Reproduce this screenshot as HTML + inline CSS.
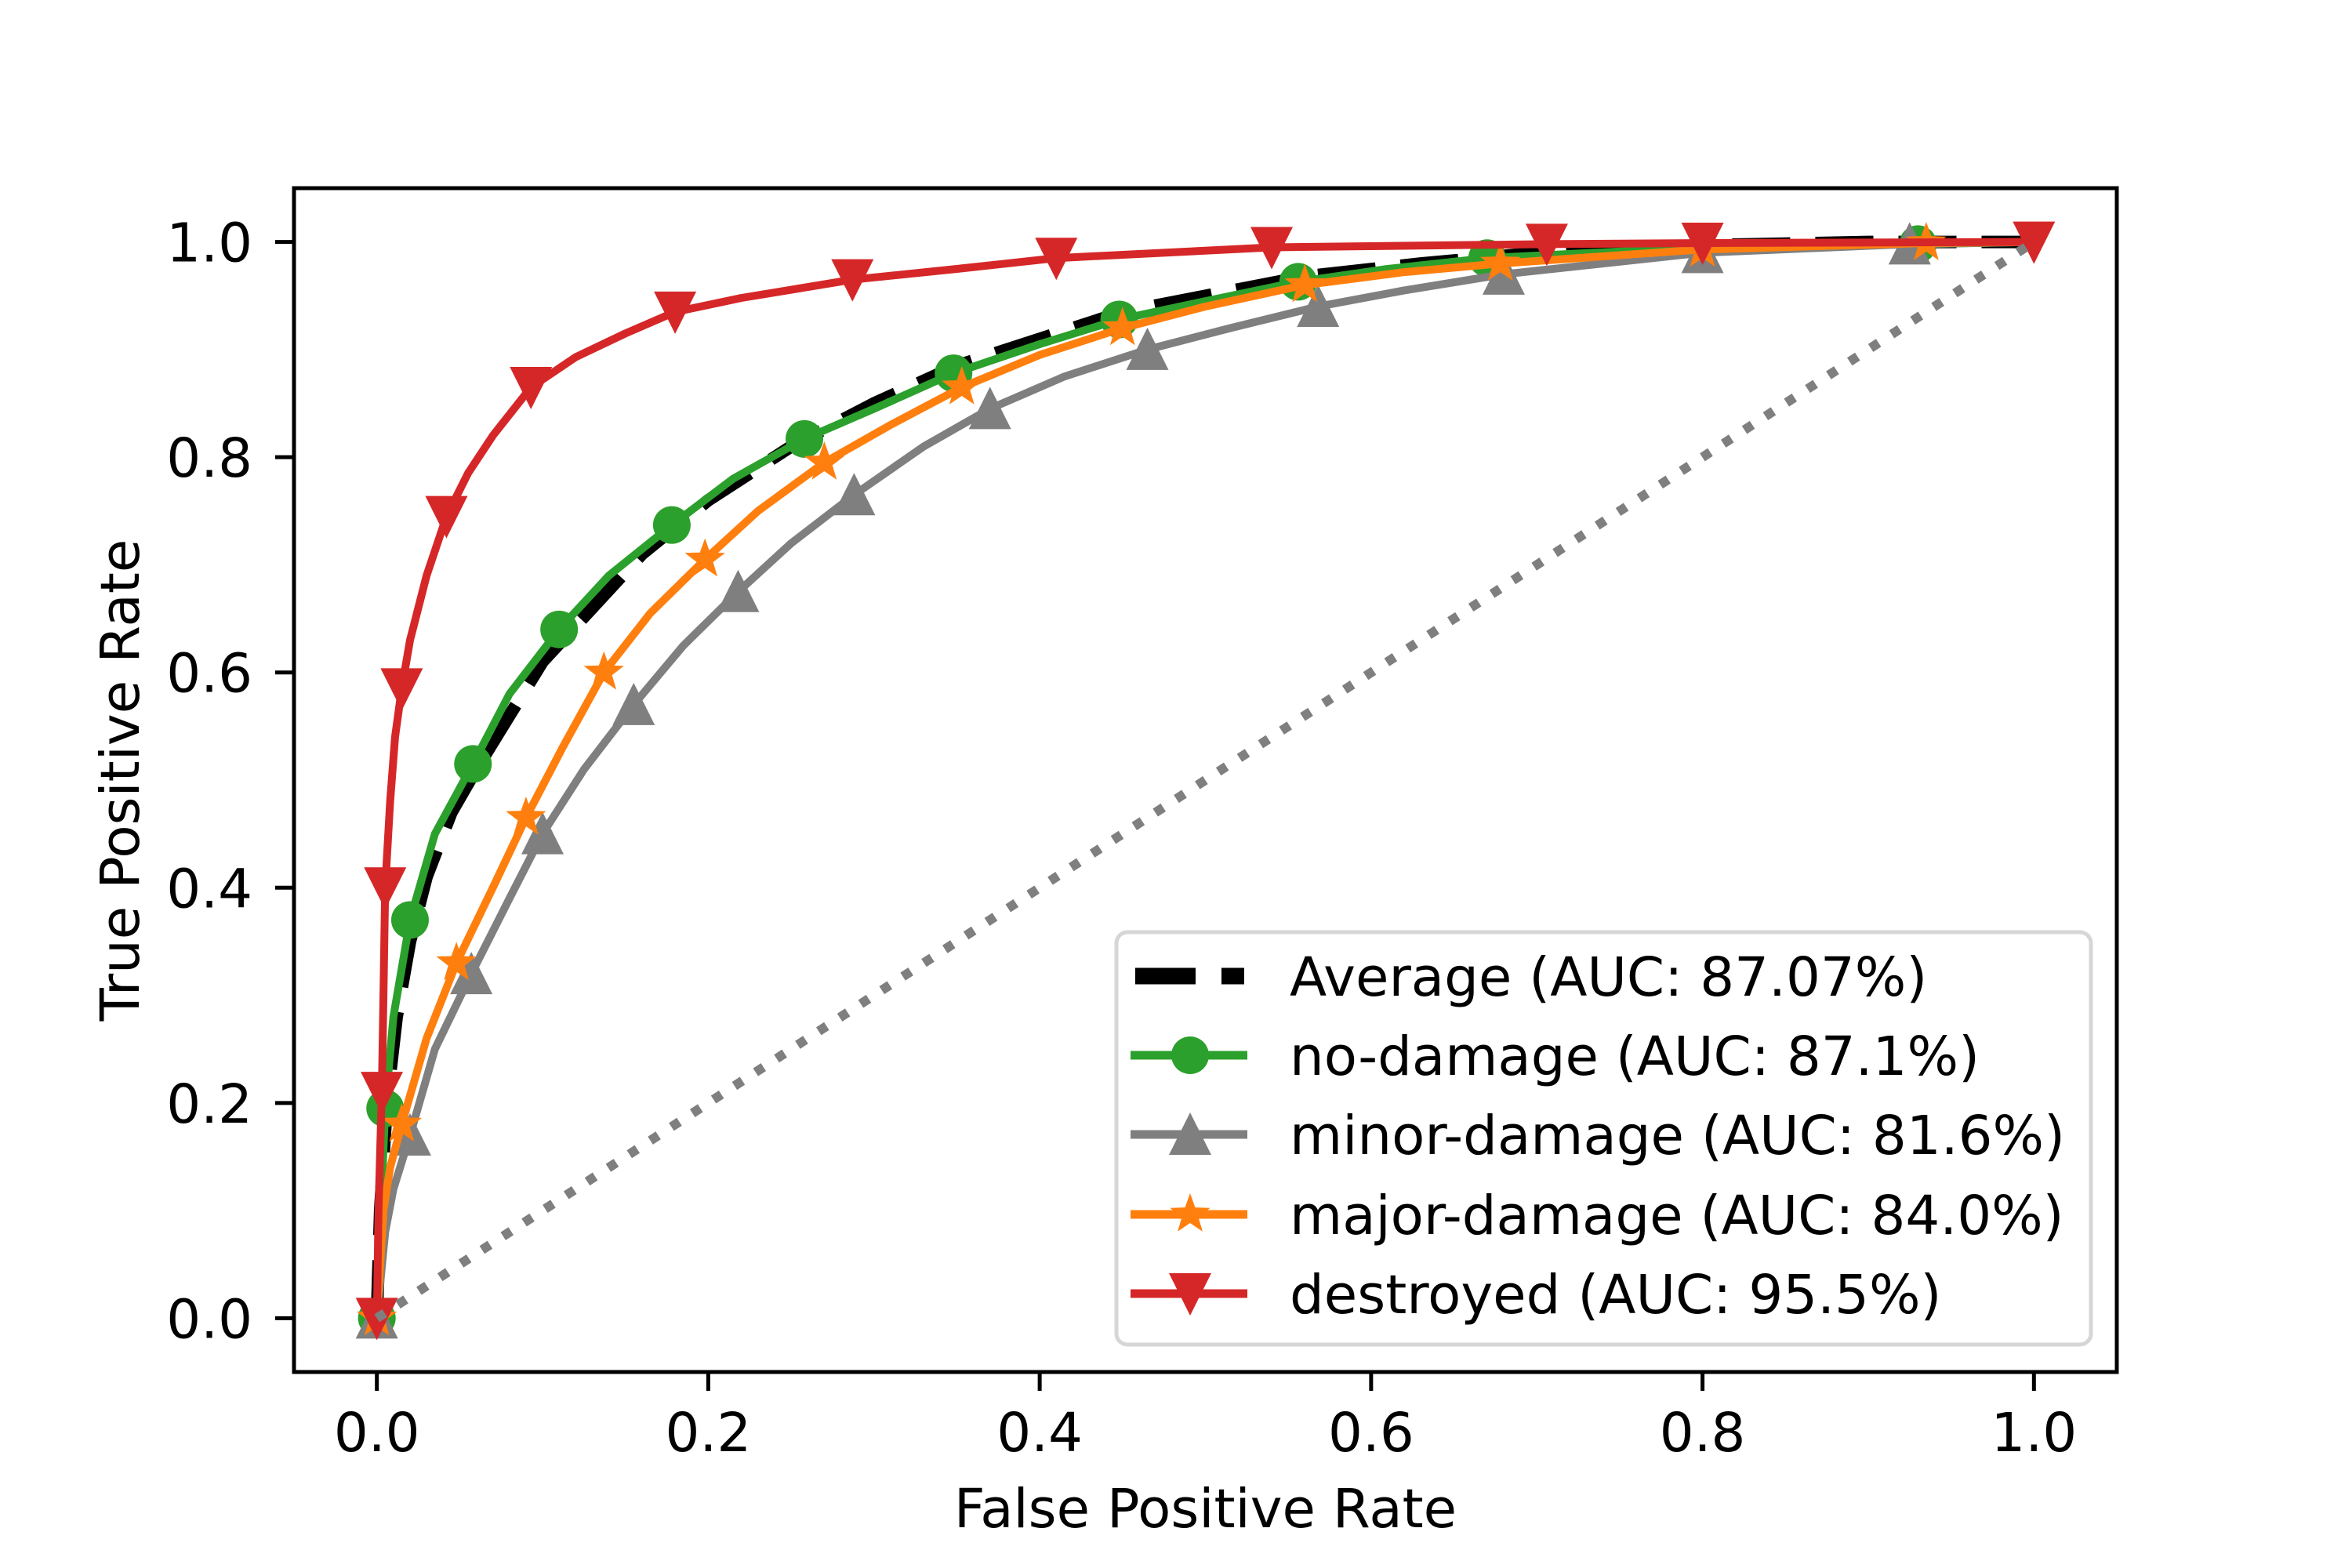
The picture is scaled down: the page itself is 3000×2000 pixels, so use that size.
<!DOCTYPE html>
<html><head><meta charset="utf-8"><style>
html,body{margin:0;padding:0;background:#fff;}
svg{display:block;font-family:"DejaVu Sans","Liberation Sans",sans-serif;}
</style></head><body>
<svg id="chart" width="3000" height="2000" viewBox="0 0 3000 2000" xmlns="http://www.w3.org/2000/svg">
<rect x="0" y="0" width="3000" height="2000" fill="#fff"/>
<g id="plot"></g>
<g id="axes"></g>
<g id="legend"></g>
</svg>
<script>
const xTicks = [0.0, 0.2, 0.4, 0.6, 0.8, 1.0];
const yTicks = [0.0, 0.2, 0.4, 0.6, 0.8, 1.0];
const xTickLabels = ["0.0","0.2","0.4","0.6","0.8","1.0"];
const yTickLabels = ["0.0","0.2","0.4","0.6","0.8","1.0"];
const seriesNames = ["Average (AUC: 87.07%)","no-damage (AUC: 87.1%)","minor-damage (AUC: 81.6%)","major-damage (AUC: 84.0%)","destroyed (AUC: 95.5%)"];

const avgFpr = [0,0.002,0.006,0.012,0.02,0.03,0.045,0.06,0.08,0.1,0.13,0.16,0.2,0.25,0.3,0.35,0.4,0.45,0.5,0.56,0.63,0.7,0.8,0.9,1];
const avgTpr = [0,0.1,0.2,0.28,0.35,0.41,0.47,0.51,0.56,0.61,0.66,0.71,0.76,0.81,0.85,0.885,0.91,0.935,0.95,0.968,0.98,0.99,0.997,1,1];

const noFpr = [0,0.003,0.005,0.01,0.02,0.035,0.058,0.08,0.11,0.14,0.178,0.215,0.258,0.3,0.348,0.4,0.448,0.5,0.556,0.61,0.67,0.8,0.93,1];
const noTpr = [0,0.12,0.195,0.28,0.37,0.45,0.515,0.58,0.64,0.69,0.737,0.78,0.817,0.845,0.878,0.905,0.928,0.945,0.963,0.975,0.985,0.995,0.998,1];
const noMarkIdx = [0,2,4,6,8,10,12,14,16,18,20,22];

const minFpr = [0,0.005,0.01,0.02,0.035,0.057,0.08,0.1,0.125,0.155,0.185,0.218,0.25,0.288,0.33,0.37,0.415,0.465,0.515,0.568,0.62,0.68,0.8,0.925,1];
const minTpr = [0,0.08,0.12,0.17,0.25,0.32,0.39,0.45,0.51,0.57,0.625,0.675,0.72,0.765,0.81,0.845,0.875,0.9,0.92,0.94,0.955,0.97,0.99,0.998,1];
const minMarkIdx = [0,3,5,7,9,11,13,15,17,19,21,22,23];

const majFpr = [0,0.004,0.008,0.015,0.03,0.048,0.07,0.09,0.112,0.137,0.165,0.198,0.23,0.27,0.31,0.353,0.4,0.45,0.5,0.56,0.62,0.678,0.8,0.935,1];
const majTpr = [0,0.1,0.14,0.18,0.26,0.33,0.4,0.465,0.53,0.6,0.655,0.705,0.75,0.795,0.83,0.865,0.895,0.92,0.94,0.96,0.972,0.98,0.993,0.999,1];
const majMarkIdx = [0,3,5,7,9,11,13,15,17,19,21,22,23];

const desFpr = [0,0.001,0.003,0.004,0.005,0.008,0.011,0.015,0.02,0.03,0.042,0.055,0.07,0.093,0.12,0.15,0.18,0.22,0.287,0.35,0.41,0.54,0.706,0.8,1];
const desTpr = [0,0.1,0.21,0.3,0.4,0.48,0.54,0.585,0.63,0.69,0.745,0.785,0.82,0.865,0.893,0.915,0.935,0.948,0.965,0.975,0.985,0.995,0.998,0.999,1];
const desMarkIdx = [0,2,4,7,10,13,16,18,20,21,22,23,24];

const diagX = [0,1];
const diagY = [0,1];

const NS = "http://www.w3.org/2000/svg";
const L = 375, R = 2700, T = 240, B = 1750;
const xMin = -0.05, xMax = 1.05, yMin = -0.05, yMax = 1.05;
function sx(v){ return L + (v - xMin) / (xMax - xMin) * (R - L); }
function sy(v){ return B - (v - yMin) / (yMax - yMin) * (B - T); }
function mk(tag, attrs, parent){ const e = document.createElementNS(NS, tag); for (const k in attrs) e.setAttribute(k, attrs[k]); parent.appendChild(e); return e; }

const plot = document.getElementById('plot');
const axes = document.getElementById('axes');
const legend = document.getElementById('legend');

function pathD(xs, ys){ return xs.map((x,i)=>(i?'L':'M')+sx(x).toFixed(1)+' '+sy(ys[i]).toFixed(1)).join(' '); }

function marker(shape, cx, cy, color, parent){
  let e;
  if (shape === 'circle') {
    e = mk('circle', {cx:cx, cy:cy, r:24, fill:color}, parent);
  } else if (shape === 'up') {
    e = mk('polygon', {points:`${cx},${cy-28} ${cx-27},${cy+26} ${cx+27},${cy+26}`, fill:color}, parent);
  } else if (shape === 'down') {
    e = mk('polygon', {points:`${cx},${cy+28} ${cx-27},${cy-26} ${cx+27},${cy-26}`, fill:color}, parent);
  } else {
    const pts = [];
    for (let i = 0; i < 10; i++) { const a = -Math.PI/2 + i*Math.PI/5; const r = i%2 ? 11 : 27; pts.push((cx + r*Math.cos(a)).toFixed(1)+','+(cy + r*Math.sin(a)).toFixed(1)); }
    e = mk('polygon', {points:pts.join(' '), fill:color}, parent);
  }
  return e;
}

// average
const avgLine = mk('path', {d:pathD(avgFpr, avgTpr), fill:'none', stroke:'#000', 'stroke-width':16, 'stroke-dasharray':'74 32'}, plot);



const series = [
  {name:'no-damage', xs:noFpr, ys:noTpr, idx:noMarkIdx, color:'#2ca02c', shape:'circle'},
  {name:'minor-damage', xs:minFpr, ys:minTpr, idx:minMarkIdx, color:'#7f7f7f', shape:'up'},
  {name:'major-damage', xs:majFpr, ys:majTpr, idx:majMarkIdx, color:'#ff7f0e', shape:'star'},
  {name:'destroyed', xs:desFpr, ys:desTpr, idx:desMarkIdx, color:'#d62728', shape:'down'}
];
series.forEach(s => {
  const g = mk('g', {}, plot);
  
  
  const p = mk('path', {d:pathD(s.xs, s.ys), fill:'none', stroke:s.color, 'stroke-width':10, 'stroke-linejoin':'round'}, g);
  
  
  s.idx.forEach(i => {
    const m = marker(s.shape, sx(s.xs[i]), sy(s.ys[i]), s.color, g);
    
    
  });
});

const diag = mk('path', {d:pathD(diagX, diagY), fill:'none', stroke:'#7f7f7f', 'stroke-width':12, 'stroke-dasharray':'12 20'}, plot);



// axes frame
const frame = mk('rect', {x:L, y:T, width:R-L, height:B-T, fill:'none', stroke:'#000', 'stroke-width':5}, axes);



xTicks.forEach((v,i) => {
  const x = sx(v);
  const t = mk('line', {x1:x, y1:B, x2:x, y2:B+24, stroke:'#000', 'stroke-width':5}, axes);
  
  
  const lb = mk('text', {x:x, y:1851, 'font-size':69, 'text-anchor':'middle', fill:'#000'}, axes);
  lb.textContent = xTickLabels[i];
  
  
});
yTicks.forEach((v,i) => {
  const y = sy(v);
  const t = mk('line', {x1:L-24, y1:y, x2:L, y2:y, stroke:'#000', 'stroke-width':5}, axes);
  
  
  const lb = mk('text', {x:322, y:y+25, 'font-size':69, 'text-anchor':'end', fill:'#000'}, axes);
  lb.textContent = yTickLabels[i];
  
  
});
const xt = mk('text', {x:(L+R)/2, y:1948, 'font-size':69, 'text-anchor':'middle', fill:'#000'}, axes);
xt.textContent = 'False Positive Rate';


const yt = mk('text', {x:0, y:0, 'font-size':69, 'text-anchor':'middle', fill:'#000', transform:`translate(177,${(T+B)/2}) rotate(-90)`}, axes);
yt.textContent = 'True Positive Rate';



// legend
const lbox = mk('rect', {x:1424, y:1189, width:1243, height:526, rx:14, fill:'#fff', stroke:'#d6d6d6', 'stroke-width':5}, legend);


const rowY = [1245, 1346, 1447, 1549, 1650];
const legColors = ['#000','#2ca02c','#7f7f7f','#ff7f0e','#d62728'];
const legShapes = [null,'circle','up','star','down'];
seriesNames.forEach((nm,i) => {
  const g = mk('g', {}, legend);
  
  
  const y = rowY[i];
  if (i === 0) {
    mk('line', {x1:1448, y1:y, x2:1525, y2:y, stroke:'#000', 'stroke-width':21}, g);
    mk('line', {x1:1558, y1:y, x2:1587, y2:y, stroke:'#000', 'stroke-width':21}, g);
  } else {
    mk('line', {x1:1442, y1:y, x2:1591, y2:y, stroke:legColors[i], 'stroke-width':11}, g);
    marker(legShapes[i], 1518, y, legColors[i], g);
  }
  const tx = mk('text', {x:1645, y:y+25, 'font-size':69, fill:'#000'}, g);
  tx.textContent = nm;
});
</script>
</body></html>
